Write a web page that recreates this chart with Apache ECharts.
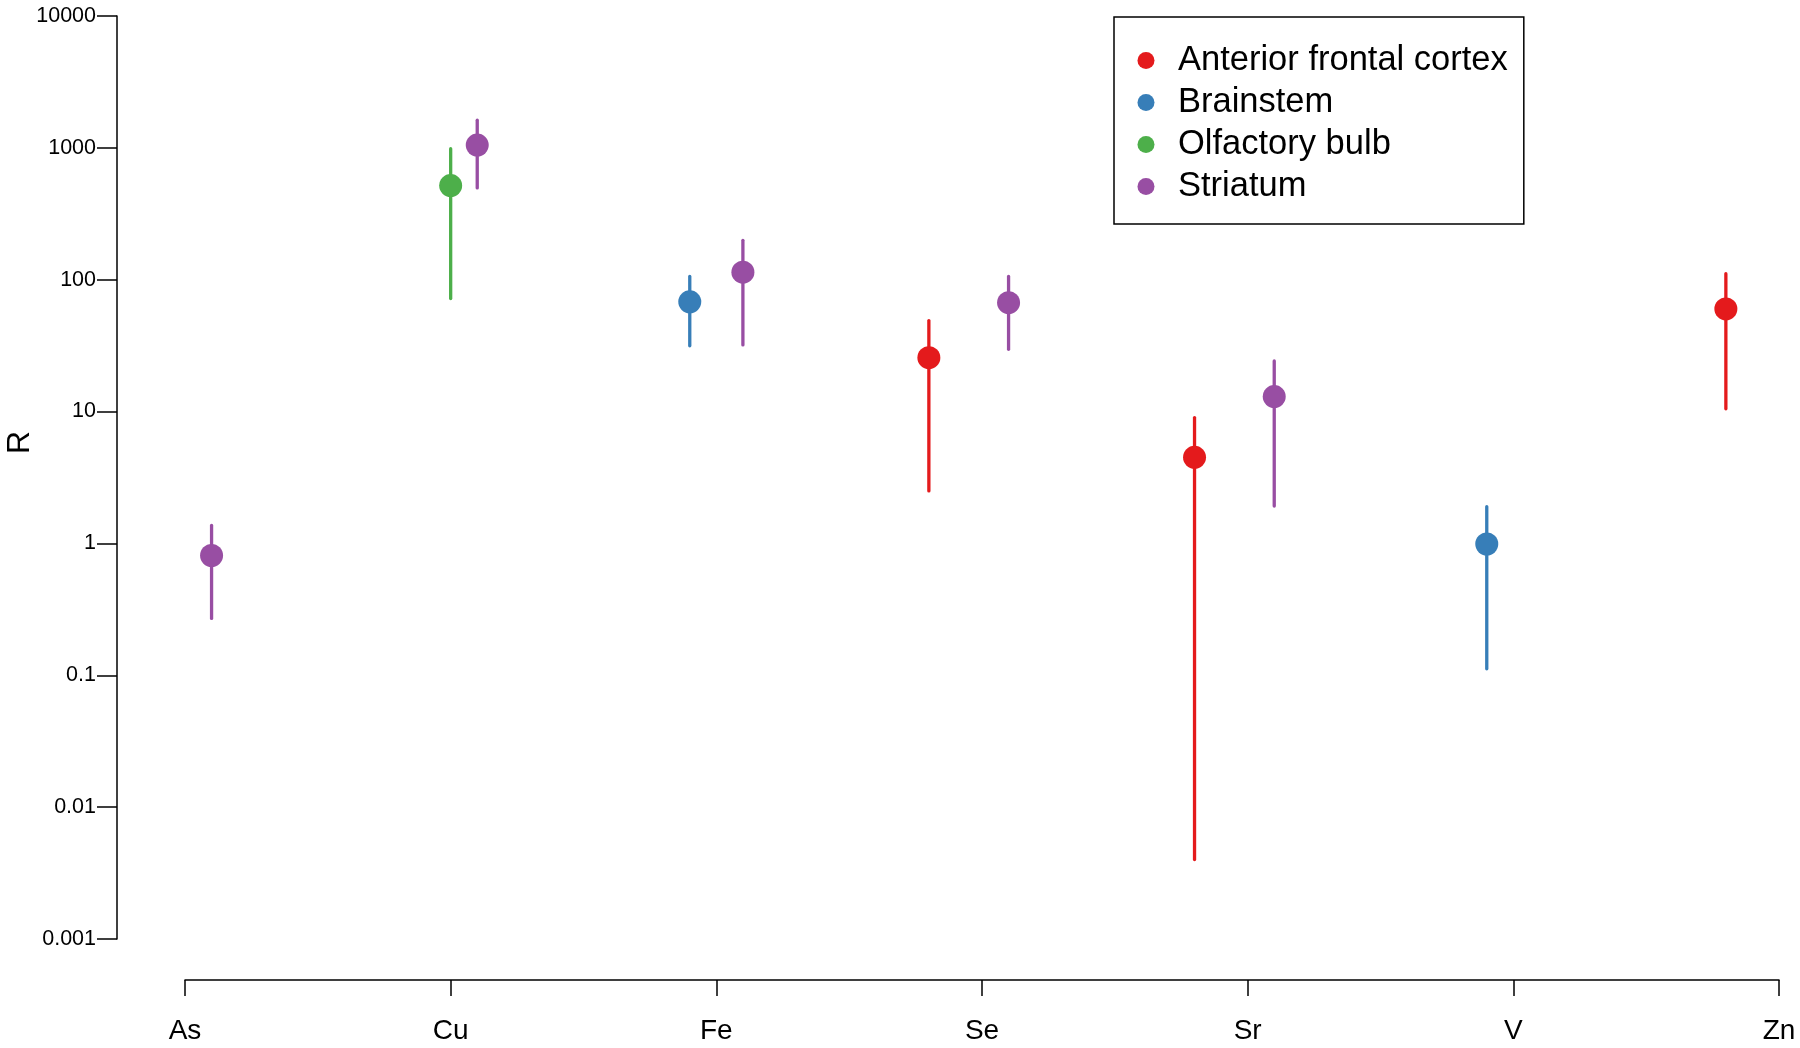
<!DOCTYPE html>
<html>
<head>
<meta charset="utf-8">
<script src="https://cdn.jsdelivr.net/npm/echarts@6/dist/echarts.min.js"></script>
<style>
  html, body { margin: 0; padding: 0; background: #fff; }
  #chart { width: 1800px; height: 1048px; }
</style>
</head>
<body>
<div id="chart"></div>
<script>
// ---- data ----
const categories = ['As', 'Cu', 'Fe', 'Se', 'Sr', 'V', 'Zn'];
const groupNames = ['Anterior frontal cortex', 'Brainstem', 'Olfactory bulb', 'Striatum'];
const yTickValues = [0.001, 0.01, 0.1, 1, 10, 100, 1000, 10000];

const afcElements = ['Se', 'Sr', 'Zn'];
const afcR        = [25.6, 4.5, 60];
const afcLower    = [2.5, 0.004, 10.5];
const afcUpper    = [49, 9.0, 111];

const brainstemElements = ['Fe', 'V'];
const brainstemR        = [68, 0.99];
const brainstemLower    = [31.5, 0.112];
const brainstemUpper    = [106, 1.9];

const olfactoryElements = ['Cu'];
const olfactoryR        = [518];
const olfactoryLower    = [72];
const olfactoryUpper    = [985];

const striatumElements = ['As', 'Cu', 'Fe', 'Se', 'Sr'];
const striatumR        = [0.81, 1050, 114, 67, 13.0];
const striatumLower    = [0.27, 497, 32, 29.7, 1.92];
const striatumUpper    = [1.37, 1620, 199, 106, 24.2];

// ---- styling ----
const colors = ['#E41A1C', '#377EB8', '#4DAF4A', '#984EA3'];
const dodge = [-0.2, -0.1, 0, 0.1];
const FONT = 'Liberation Sans, Arial, Helvetica, sans-serif';

const groups = [
  [afcElements, afcR, afcLower, afcUpper],
  [brainstemElements, brainstemR, brainstemLower, brainstemUpper],
  [olfactoryElements, olfactoryR, olfactoryLower, olfactoryUpper],
  [striatumElements, striatumR, striatumLower, striatumUpper]
];

const series = [];
groups.forEach(function (g, gi) {
  const els = g[0], r = g[1], lo = g[2], hi = g[3];
  const barData = els.map(function (e, i) {
    return [categories.indexOf(e) + dodge[gi], lo[i], hi[i]];
  });
  const ptData = els.map(function (e, i) {
    return [categories.indexOf(e) + dodge[gi], r[i]];
  });
  series.push({
    name: groupNames[gi],
    type: 'scatter',
    data: ptData,
    symbol: 'circle',
    symbolSize: 23,
    itemStyle: { color: colors[gi], opacity: 1 },
    z: 3
  });
  series.push({
    name: groupNames[gi],
    type: 'custom',
    data: barData,
    encode: { x: 0, y: [1, 2] },
    silent: true,
    renderItem: function (params, api) {
      const p1 = api.coord([api.value(0), api.value(1)]);
      const p2 = api.coord([api.value(0), api.value(2)]);
      return {
        type: 'line',
        shape: { x1: p1[0], y1: p1[1], x2: p2[0], y2: p2[1] },
        style: { stroke: colors[gi], lineWidth: 3.3, lineCap: 'round' }
      };
    },
    z: 2
  });
});

function fmtLog(v) {
  const e = Math.round(Math.log10(v));
  return e < 0 ? Math.pow(10, e).toFixed(-e) : String(Math.round(Math.pow(10, e)));
}

const chart = echarts.init(document.getElementById('chart'), null, { renderer: 'canvas' });
chart.setOption({
  animation: false,
  backgroundColor: '#ffffff',
  color: colors,
  grid: { left: 185, right: 21, top: 16, bottom: 109, containLabel: false, outerBoundsMode: 'none' },
  legend: {
    data: groupNames.map(function (n) { return { name: n, icon: 'circle' }; }),
    orient: 'vertical',
    left: 1114,
    top: 17,
    itemWidth: 17,
    itemHeight: 17,
    itemGap: 7,
    padding: [26, 16, 20, 23.5],
    borderColor: '#000',
    borderWidth: 1.5,
    backgroundColor: '#fff',
    formatter: function (n) { return '{t|' + n + '}'; },
    textStyle: {
      fontFamily: FONT, fontSize: 34.5, color: '#000', lineHeight: 34,
      rich: { t: { fontFamily: FONT, fontSize: 34.5, color: '#000', lineHeight: 34, padding: [0, 0, 0, 18.5] } }
    },
    selectedMode: false
  },
  xAxis: {
    type: 'value',
    min: 0,
    max: 6,
    interval: 1,
    offset: 41,
    axisLine: { show: true, onZero: false, lineStyle: { color: '#000', width: 1.5 } },
    axisTick: { show: true, inside: false, length: 16, lineStyle: { color: '#000', width: 1.5 } },
    axisLabel: {
      margin: 37,
      fontFamily: FONT,
      fontSize: 28,
      color: '#000',
      formatter: function (v) { return categories[Math.round(v)] || ''; }
    },
    splitLine: { show: false }
  },
  yAxis: {
    type: 'log',
    logBase: 10,
    min: yTickValues[0],
    max: yTickValues[yTickValues.length - 1],
    interval: 1,
    offset: 68,
    name: 'R',
    nameLocation: 'middle',
    nameRotate: 90,
    nameGap: 81,
    nameMoveOverlap: false,
    nameTextStyle: { fontFamily: FONT, fontSize: 32, color: '#000', padding: [0, 0, 0, 70] },
    axisLine: { show: true, onZero: false, lineStyle: { color: '#000', width: 1.5 } },
    axisTick: { show: true, inside: false, length: 20, lineStyle: { color: '#000', width: 1.5 } },
    axisLabel: {
      margin: 21,
      fontFamily: FONT,
      fontSize: 21.5,
      color: '#000',
      formatter: fmtLog
    },
    splitLine: { show: false },
    minorTick: { show: false }
  },
  series: series
});
</script>
</body>
</html>
